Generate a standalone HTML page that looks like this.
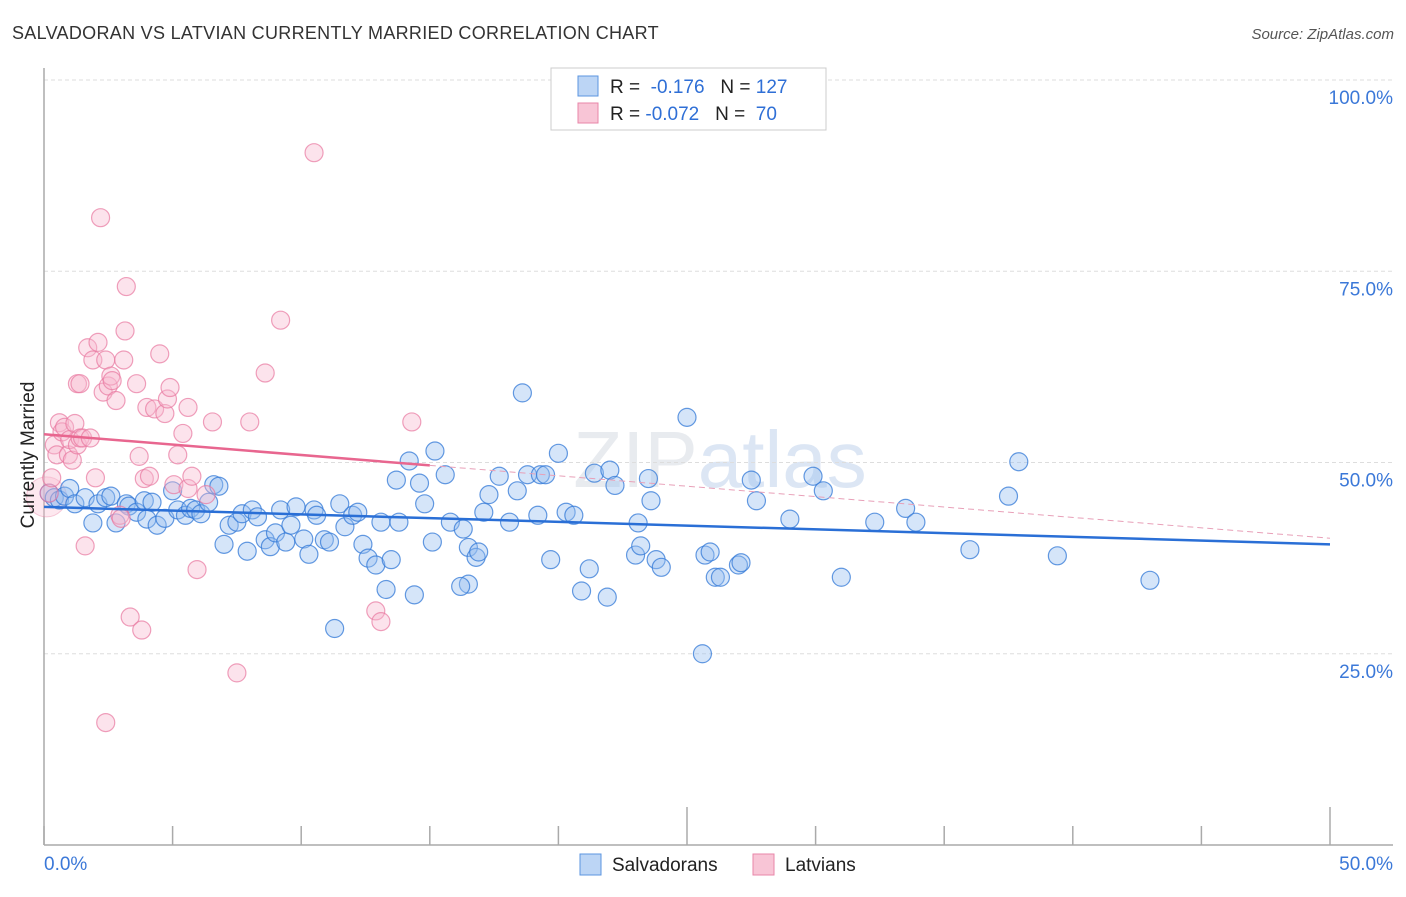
<!DOCTYPE html>
<html><head><meta charset="utf-8"><style>
body{margin:0;background:#fff;font-family:"Liberation Sans",sans-serif}
svg text{font-family:"Liberation Sans",sans-serif}
</style></head><body>
<svg width="1406" height="892" id="c">
<text x="12" y="39" font-size="18" fill="#333" letter-spacing="0.3">SALVADORAN VS LATVIAN CURRENTLY MARRIED CORRELATION CHART</text>
<text x="1394" y="39" font-size="15" fill="#555" text-anchor="end" font-style="italic">Source: ZipAtlas.com</text>
<text x="720" y="487" font-size="80" fill="#e8ebef" text-anchor="middle" font-family="Liberation Serif">ZIP<tspan font-family="Liberation Sans" fill="#dce6f4">atlas</tspan></text>
<g id="grid"></g>
<g id="axes"></g>
<g id="pts"></g>
<g id="trend"></g>
<text transform="translate(34,455) rotate(-90)" font-size="19" fill="#222" text-anchor="middle">Currently Married</text>
<g>
<rect x="551" y="68" width="275" height="62" fill="#fff" stroke="#ccc"/>
<rect x="578" y="76" width="20" height="20" fill="#bcd5f5" stroke="#5b95e0"/>
<rect x="578" y="103" width="20" height="20" fill="#f8c5d6" stroke="#e886a8"/>
<text x="610" y="93" font-size="19" fill="#222">R = <tspan fill="#2f6fd6">&#160;-0.176</tspan>&#160;&#160;&#160;N = <tspan fill="#2f6fd6">127</tspan></text>
<text x="610" y="120" font-size="19" fill="#222">R = <tspan fill="#2f6fd6">-0.072</tspan>&#160;&#160;&#160;N = <tspan fill="#2f6fd6">&#160;70</tspan></text>
</g>
<g><rect x="580" y="854" width="21" height="21" fill="#bcd5f5" stroke="#5b95e0"/><text x="612" y="871" font-size="19" fill="#222">Salvadorans</text></g>
<g><rect x="753" y="854" width="21" height="21" fill="#f8c5d6" stroke="#e886a8"/><text x="785" y="871" font-size="19" fill="#222">Latvians</text></g>
</svg>
<script>
const blueX=[0.2,0.4,0.6,0.8,1,1.2,1.6,1.9,2.1,2.4,2.6,2.8,3.2,3.3,3.6,3.9,4,4.2,4.4,4.7,5,5.2,5.5,5.7,5.9,6.1,6.4,6.6,6.8,7,7.2,7.5,7.7,7.9,8.1,8.3,8.6,8.8,9,9.2,9.4,9.6,9.8,10.1,10.3,10.5,10.6,10.9,11.1,11.3,11.5,11.7,12,12.2,12.4,12.6,12.9,13.1,13.3,13.5,13.7,13.8,14.2,14.4,14.6,14.8,15.1,15.2,15.6,15.8,16.3,16.5,16.8,16.9,16.5,16.2,17.1,17.3,17.7,18.1,18.4,18.6,18.8,19.2,19.3,19.5,19.7,20,20.3,20.6,20.9,21.2,21.4,21.9,22,22.2,23,23.1,23.2,23.5,23.6,23.8,24,25,25.6,25.7,25.9,26.1,26.3,27,27.1,27.5,27.7,29,29.9,30.3,31,32.3,33.5,33.9,36,37.5,37.9,39.4,43]; 
const blueY=[46,45.4,45.1,45.6,46.6,44.6,45.4,42.1,44.6,45.4,45.6,42.1,44.6,44.3,43.5,45,42.6,44.8,41.8,42.7,46.3,43.8,43.1,44,43.8,43.3,44.8,47.1,46.9,39.3,41.8,42.2,43.3,38.4,43.8,42.9,39.9,39,40.8,43.8,39.6,41.8,44.2,40,38,43.8,43.1,39.9,39.6,28.3,44.6,41.6,43.1,43.5,39.3,37.5,36.6,42.2,33.4,37.3,47.7,42.2,50.2,32.7,47.3,44.6,39.6,51.5,48.4,42.2,41.3,38.9,37.6,38.3,34.1,33.8,43.5,45.8,48.2,42.2,46.3,59.1,48.4,43.1,48.4,48.4,37.3,51.2,43.5,43.1,33.2,36.1,48.6,32.4,49,47,37.9,42.1,39.1,47.9,45,37.3,36.3,55.9,25,37.9,38.3,35,35,36.6,36.9,47.7,45,42.6,48.2,46.3,35,42.2,44,42.2,38.6,45.6,50.1,37.8,34.6];
const pinkX=[0.2,0.3,0.4,0.5,0.6,0.7,0.8,0.95,1,1.1,1.2,1.3,1.4,1.5,1.6,1.7,1.8,1.9,2,2.1,2.2,2.3,2.4,2.5,2.6,2.65,2.8,2.95,3,3.1,3.15,3.2,3.35,3.6,3.7,3.8,3.9,4,4.1,4.3,4.5,4.7,4.8,4.9,5.05,5.2,5.4,5.6,5.6,5.75,5.95,6.3,6.55,7.5,8,8.6,9.2,10.5,12.9,13.1,14.3,2.4,1.3,1.4];
const pinkY=[46,48,52.3,51,55.2,54,54.6,51,53,50.3,55.1,52.3,53.2,53.2,39.1,65,53.2,63.4,48,65.7,82,59.2,63.4,60,61.3,60.7,58.1,43.1,42.7,63.4,67.2,73,29.8,60.3,50.8,28.1,47.9,57.2,48.2,57,64.2,56.4,58.3,59.8,47.1,51,53.8,57.2,46.6,48.2,36,45.8,55.3,22.5,55.3,61.7,68.6,90.5,30.6,29.2,55.3,16,60.3,60.3];
const X=v=>44+v*25.72, Y=v=>845-v*7.65;
const ns="http://www.w3.org/2000/svg";
function mk(t,a,p){const e=document.createElementNS(ns,t);for(const k in a)e.setAttribute(k,a[k]);p.appendChild(e);return e;}
const grid=document.getElementById('grid'),axes=document.getElementById('axes'),pts=document.getElementById('pts'),tr=document.getElementById('trend');
const yTicks=[25,50,75,100],yLabels=["25.0%","50.0%","75.0%","100.0%"];
yTicks.forEach((t,i)=>{
 const l=mk('line',{x1:44,x2:1393,y1:Y(t),y2:Y(t),stroke:'#ddd','stroke-dasharray':'4,3'},grid);
 
 
 const tx=mk('text',{x:1393,y:Y(t)+24,'font-size':19,fill:'#3b78d8','text-anchor':'end'},grid);
 tx.textContent=yLabels[i];
 
 
});
let a=mk('line',{x1:44,x2:44,y1:68,y2:845,stroke:'#aaa','stroke-width':1.5},axes);


a=mk('line',{x1:44,x2:1393,y1:845,y2:845,stroke:'#aaa','stroke-width':1.5},axes);


for(let i=0;i<=10;i++){const v=i*5;const big=(i==5||i==10);
 const t=mk('line',{x1:X(v),x2:X(v),y1:big?807:826,y2:845,stroke:'#aaa','stroke-width':1.5},axes);
 
 }
const xl=[["0.0%",44,'start'],["50.0%",1393,'end']];
xl.forEach(d=>{const t=mk('text',{x:d[1],y:870,'font-size':19,fill:'#3b78d8','text-anchor':d[2]},axes);t.textContent=d[0];
 
 });
let big=mk('circle',{cx:X(0.1),cy:Y(45.5),r:20,fill:'rgba(248,190,210,0.35)',stroke:'rgba(232,130,165,0.4)'},pts);


blueX.forEach((x,i)=>{const c=mk('circle',{cx:X(x),cy:Y(blueY[i]),r:9,fill:'rgba(150,190,240,0.4)',stroke:'rgba(50,120,215,0.75)','stroke-width':1.2},pts);
 
 });
pinkX.forEach((x,i)=>{const c=mk('circle',{cx:X(x),cy:Y(pinkY[i]),r:9,fill:'rgba(248,185,208,0.4)',stroke:'rgba(232,120,160,0.7)','stroke-width':1.2},pts);
 
 });
const blueTrend=[44.2,39.3],pinkTrend=[53.7,40.1];
let l=mk('line',{x1:X(0),y1:Y(blueTrend[0]),x2:X(50),y2:Y(blueTrend[1]),stroke:'#2a6fd6','stroke-width':2.5},tr);


const py=v=>pinkTrend[0]+(pinkTrend[1]-pinkTrend[0])*v/50;
l=mk('line',{x1:X(0),y1:Y(py(0)),x2:X(15),y2:Y(py(15)),stroke:'#e8668f','stroke-width':2.5},tr);


l=mk('line',{x1:X(15),y1:Y(py(15)),x2:X(50),y2:Y(py(50)),stroke:'#e8a0b8','stroke-width':1,'stroke-dasharray':'6,4'},tr);


</script>
</body></html>
